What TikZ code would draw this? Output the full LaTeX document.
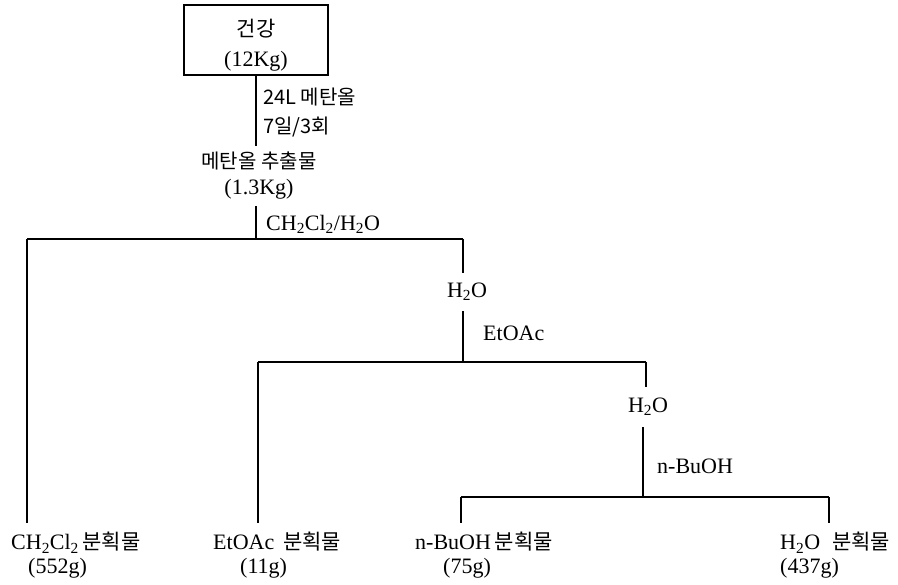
\documentclass[tikz,border=0pt]{standalone}
\usepackage{fontspec}
\setmainfont{Liberation Serif}
\newfontfamily\kr{Noto Sans CJK KR}
\usetikzlibrary{positioning}

\begin{document}
\begin{tikzpicture}[
    x=1pt, y=-1pt,
    line/.style={draw, line width=2pt},
    box/.style={draw, line width=2pt, minimum width=144pt, minimum height=66pt, align=center,
        font=\fontsize{22}{30}\selectfont},
    txt/.style={inner sep=0pt, font=\fontsize{22}{26}\selectfont},
    krtxt/.style={inner sep=0pt, font=\kr\fontsize{20}{24}\selectfont},
    frac/.style={inner sep=0pt, anchor=base west, font=\fontsize{22}{26}\selectfont}
]
    \useasboundingbox (0,0) rectangle (898,585);

    % Top
    \node[box] (raw) at (256,40) {{\kr\fontsize{21}{30}\selectfont 건강}\rule{0pt}{28pt}\\(12Kg)};
    \node[align=center, inner sep=6pt, font=\fontsize{22}{26}\selectfont] (ext) at (259,176)
        {{\kr\fontsize{20}{26}\selectfont 메탄올 추출물}\\(1.3Kg)};
    \node[krtxt, anchor=west] (cond1) at (263,97) {24L 메탄올};
    \node[krtxt, anchor=west] (cond2) at (263,127) {7일/3회};
    \node[txt, anchor=west] (solv1) at (266,224) {CH\textsubscript{2}Cl\textsubscript{2}/H\textsubscript{2}O};

    % Middle
    \node[txt, inner sep=10pt] (wat1) at (467,292) {H\textsubscript{2}O};
    \node[txt, anchor=west] (solv2) at (483,333) {EtOAc};
    \node[txt, inner sep=11pt] (wat2) at (648,407) {H\textsubscript{2}O};
    \node[txt, anchor=west] (solv3) at (657,466) {n-BuOH};

    % Fractions
    \node[frac] (fCH) at (11,550) {CH\textsubscript{2}Cl\textsubscript{2}\,{\kr\fontsize{21}{26}\selectfont 분획물}};
    \node[frac] (aCH) at (28,573) {(552g)};
    \node[frac] (fEt) at (213,550) {EtOAc\hspace{9pt}{\kr\fontsize{21}{26}\selectfont 분획물}};
    \node[frac] (aEt) at (240,573) {(11g)};
    \node[frac] (fBu) at (415,550) {n-BuOH\hspace{4pt}{\kr\fontsize{21}{26}\selectfont 분획물}};
    \node[frac] (aBu) at (443,573) {(75g)};
    \node[frac] (fWa) at (780,550) {H\textsubscript{2}O\hspace{12pt}{\kr\fontsize{21}{26}\selectfont 분획물}};
    \node[frac] (aWa) at (780,573) {(437g)};

    % Junctions
    \coordinate (j1) at (256,239);
    \coordinate (j1l) at (27,239);
    \coordinate (j1r) at (463,239);
    \coordinate (j2) at (463,362);
    \coordinate (j2l) at (258,362);
    \coordinate (j2r) at (646,362);
    \coordinate (j3) at (643,497);
    \coordinate (j3l) at (461,497);
    \coordinate (j3r) at (829,497);

    % Connectors
    \draw[line] (raw.south) -- (raw.south |- ext.north);
    \draw[line] (ext.south -| j1) -- (j1);
    \draw[line] (j1l) -- (j1r);
    \draw[line, shorten >=9pt] (j1l) -- (j1l |- fCH.north);
    \draw[line] (j1r) -- (j1r |- wat1.north);
    \draw[line] (wat1.south -| j2) -- (j2);
    \draw[line] (j2l) -- (j2r);
    \draw[line, shorten >=9pt] (j2l) -- (j2l |- fEt.north);
    \draw[line] (j2r) -- (j2r |- wat2.north);
    \draw[line] (wat2.south -| j3) -- (j3);
    \draw[line] (j3l) -- (j3r);
    \draw[line, shorten >=9pt] (j3l) -- (j3l |- fBu.north);
    \draw[line, shorten >=9pt] (j3r) -- (j3r |- fWa.north);

\end{tikzpicture}
\end{document}
